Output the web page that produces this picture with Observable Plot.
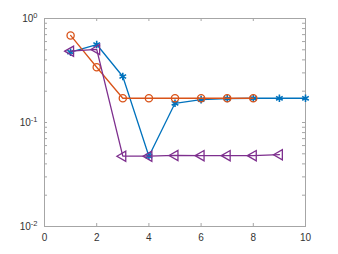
<!DOCTYPE html>
<html>
<head>
<meta charset="utf-8">
<script src="https://cdn.jsdelivr.net/npm/d3@7"></script>
<script src="https://cdn.jsdelivr.net/npm/@observablehq/plot@0.6"></script>
<style>
  html, body { margin: 0; padding: 0; background: #fff; }
  #chart svg { display: block; }
</style>
</head>
<body>
<div id="chart"></div>
<script>
// ---- data ----
const blueX = [1, 2, 3, 4, 5, 6, 7, 8, 9, 10];
const blueY = [0.474, 0.562, 0.277, 0.0474, 0.153, 0.166, 0.170, 0.171, 0.171, 0.171];
const orangeX = [1, 2, 3, 4, 5, 6, 7, 8];
const orangeY = [0.687, 0.340, 0.171, 0.171, 0.171, 0.171, 0.171, 0.171];
const purpleX = [1, 2, 3, 4, 5, 6, 7, 8, 9];
const purpleY = [0.485, 0.504, 0.0474, 0.0474, 0.0482, 0.0480, 0.0480, 0.0480, 0.0490];

const xTicks = [0, 2, 4, 6, 8, 10];
const yMajor = [0.01, 0.1, 1];
const yMajorLabels = ["10^-2", "10^-1", "10^0"];
const yMinor = [0.01, 0.02, 0.03, 0.04, 0.05, 0.06, 0.07, 0.08, 0.09,
                0.1, 0.2, 0.3, 0.4, 0.5, 0.6, 0.7, 0.8, 0.9, 1];

const blue = blueX.map((x, i) => ({x, y: blueY[i]}));
const orange = orangeX.map((x, i) => ({x, y: orangeY[i]}));
const purple = purpleX.map((x, i) => ({x, y: purpleY[i]}));

const W = 338, H = 254, mL = 44, mR = 33, mT = 18, mB = 28;
const fw = W - mL - mR, fh = H - mT - mB;
const tickLen = 3;
const axisColor = "#a6a6a6";

const C_BLUE = "#0072BD", C_ORANGE = "#D95319", C_PURPLE = "#7E2F8E";

const chart = Plot.plot({
  width: W, height: H,
  marginLeft: mL, marginRight: mR, marginTop: mT, marginBottom: mB,
  style: {fontFamily: "'Liberation Sans', Arial, sans-serif", fontSize: "10px", color: "#333", background: "#fff"},
  x: {domain: [0, 10], ticks: xTicks, tickSize: 0, tickPadding: 7, label: null},
  y: {type: "log", domain: [0.01, 1], ticks: yMajor, tickSize: 0, tickPadding: 7, label: null,
      tickFormat: d => yMajorLabels[yMajor.indexOf(d)] ?? ""},
  marks: [
    Plot.frame({stroke: axisColor}),
    // inner tick marks (bottom & top)
    Plot.tickX(xTicks, {x: d => d, insetTop: fh - tickLen, stroke: axisColor}),
    Plot.tickX(xTicks, {x: d => d, insetBottom: fh - tickLen, stroke: axisColor}),
    // inner tick marks (left & right)
    Plot.tickY(yMinor, {y: d => d, insetRight: fw - tickLen, stroke: axisColor}),
    Plot.tickY(yMinor, {y: d => d, insetLeft: fw - tickLen, stroke: axisColor}),
    // series
    Plot.line(blue, {x: "x", y: "y", stroke: C_BLUE, strokeWidth: 1.3}),
    Plot.dot(blue, {x: "x", y: "y", symbol: "asterisk", r: 3.6, stroke: C_BLUE, strokeWidth: 1.6}),
    Plot.line(orange, {x: "x", y: "y", stroke: C_ORANGE, strokeWidth: 1.3}),
    Plot.dot(orange, {x: "x", y: "y", symbol: "circle", r: 3.6, stroke: C_ORANGE, fill: "none", strokeWidth: 1.3}),
    Plot.line(purple, {x: "x", y: "y", stroke: C_PURPLE, strokeWidth: 1.3}),
    Plot.dot(purple, {x: "x", y: "y", symbol: "triangle", rotate: -90, r: 3.8, stroke: C_PURPLE, fill: "none", strokeWidth: 1.3})
  ]
});

// render superscripts for log tick labels
d3.select(chart).selectAll("g[aria-label^='y-axis'] text").each(function () {
  const t = d3.select(this).text();
  const m = t.match(/^10\^(.+)$/);
  if (!m) return;
  const el = d3.select(this);
  el.text("10");
  el.append("tspan").attr("dy", "-0.45em").attr("font-size", "7.5px").text(m[1]);
});

document.getElementById("chart").appendChild(chart);
</script>
</body>
</html>
